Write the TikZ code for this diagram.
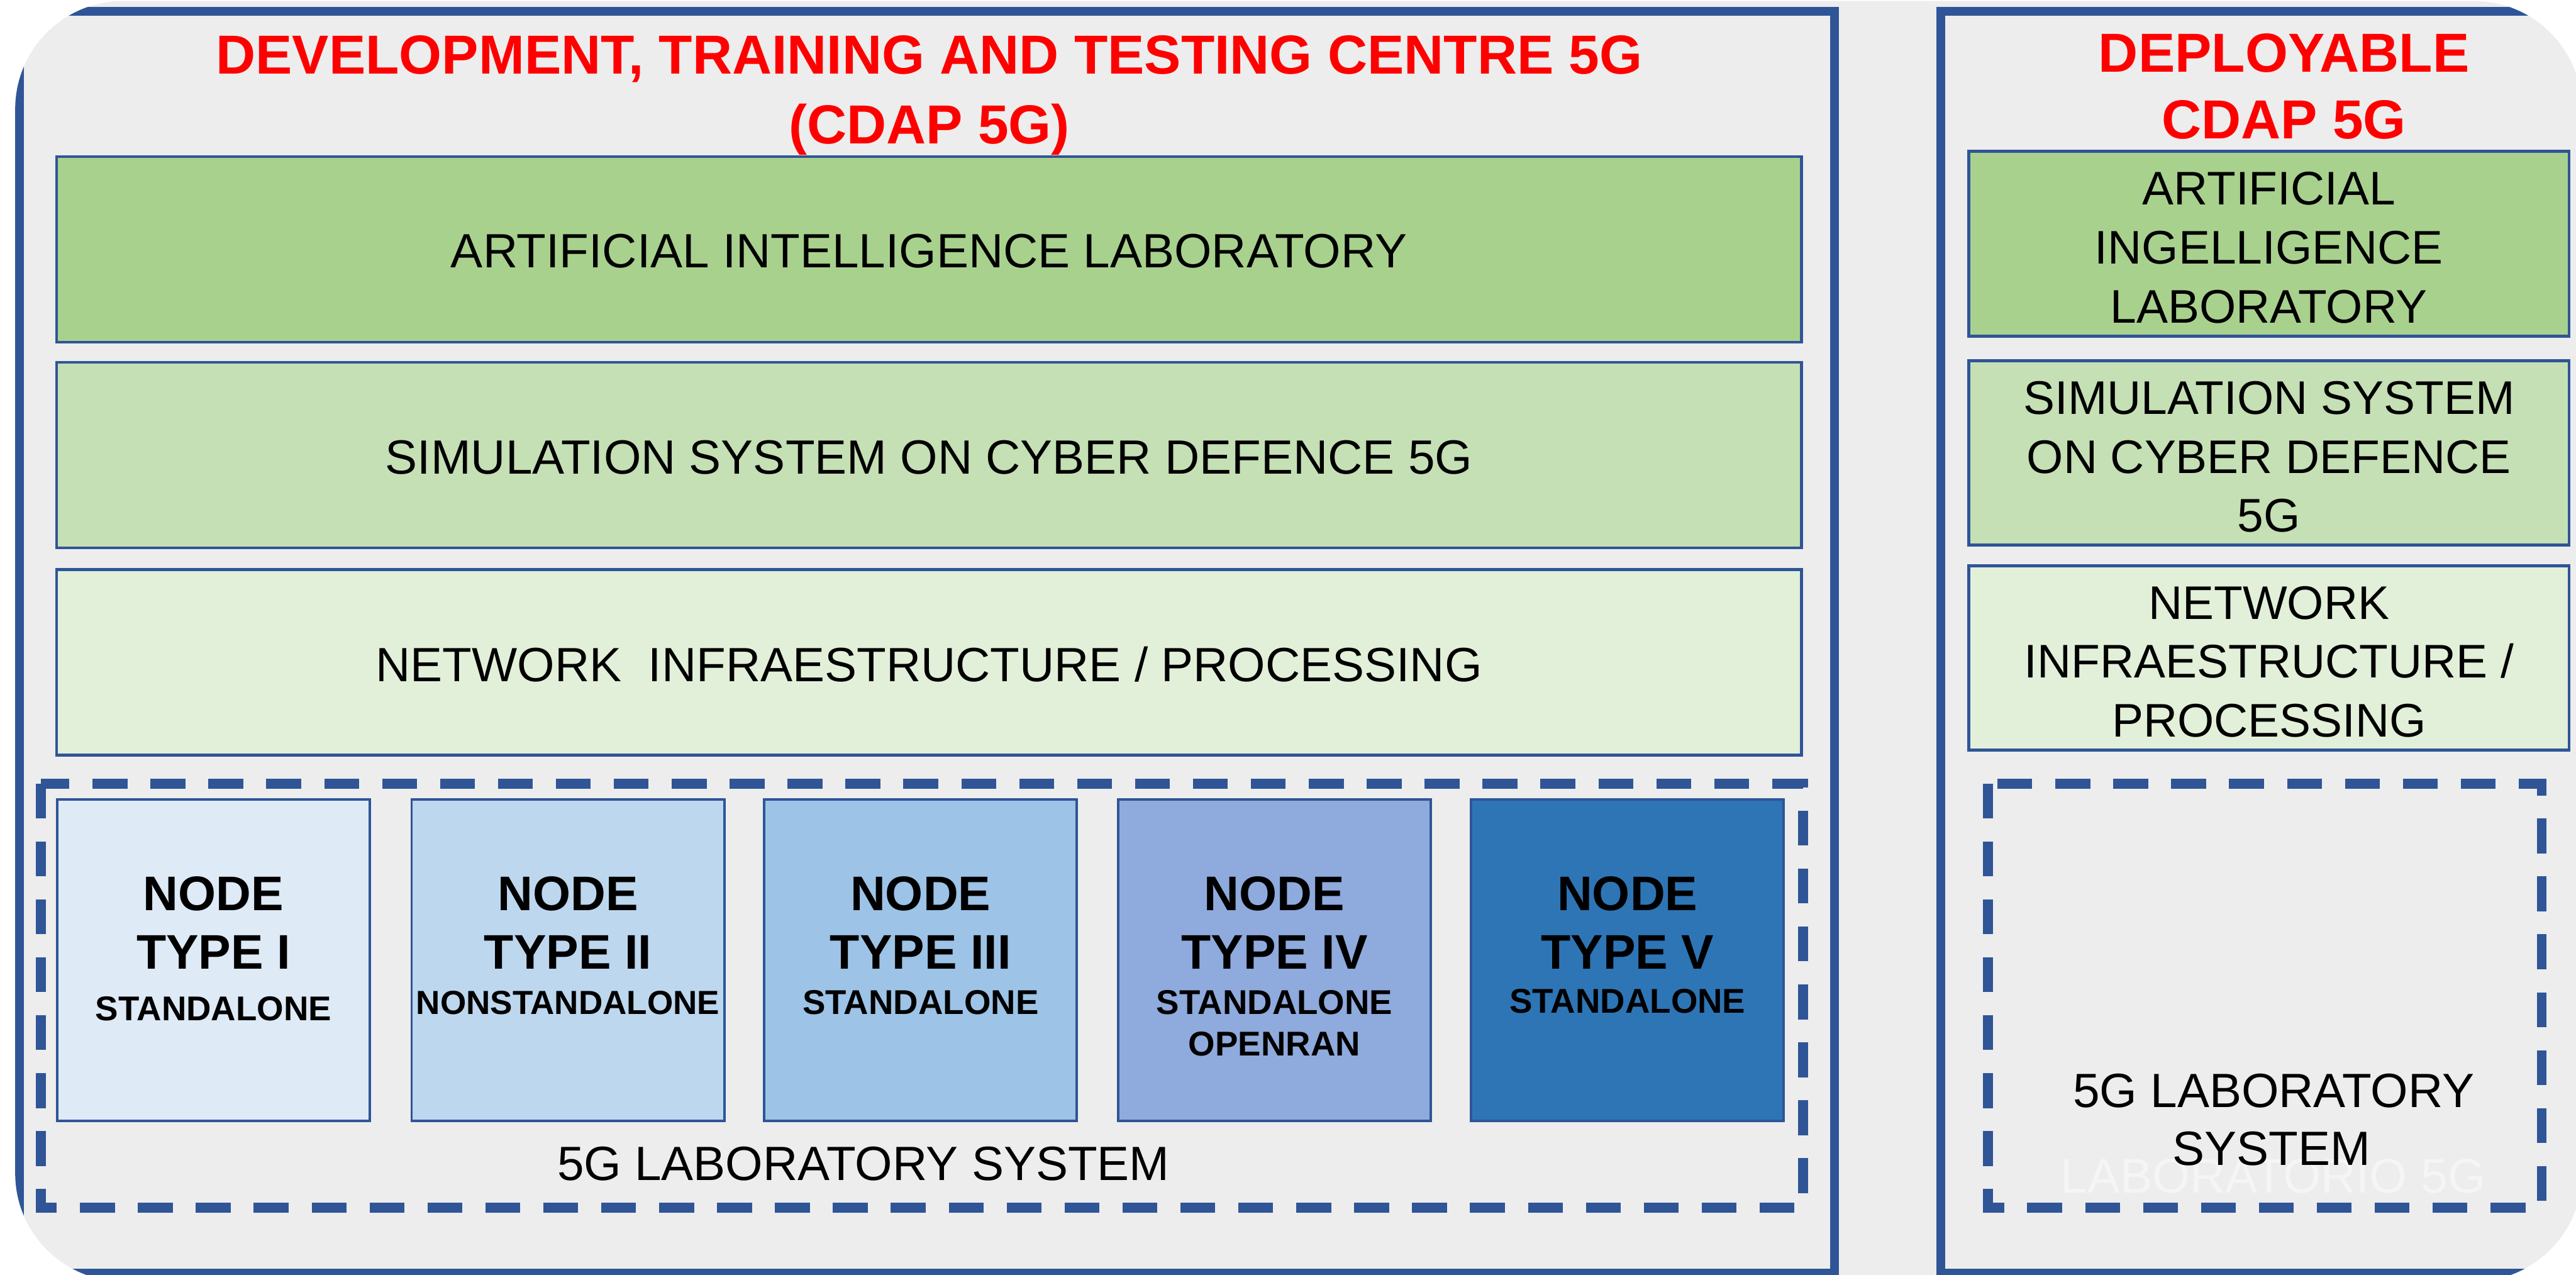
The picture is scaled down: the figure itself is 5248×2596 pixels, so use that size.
\documentclass[tikz,border=0pt]{standalone}
\usepackage{fontspec}
\setmainfont{Liberation Sans}
\definecolor{frameblue}{HTML}{2F5597}
\definecolor{titlered}{HTML}{FF0000}
\definecolor{bggray}{HTML}{EDEDED}
\definecolor{aigreen}{HTML}{A9D18E}
\definecolor{simgreen}{HTML}{C5E0B4}
\definecolor{netgreen}{HTML}{E2F0D9}
\definecolor{nodeone}{HTML}{DEEAF6}
\definecolor{nodetwo}{HTML}{BDD7EE}
\definecolor{nodethree}{HTML}{9DC3E6}
\definecolor{nodefour}{HTML}{8FAADC}
\definecolor{nodefive}{HTML}{2E75B6}
\tikzset{
  cframe/.style={draw=frameblue, line width=1.75pt},
  wideband/.style={draw=frameblue, line width=0.6pt, inner sep=0pt, outer sep=0pt,
    minimum width=355.5pt, minimum height=37.8pt},
  narrowband/.style={draw=frameblue, line width=0.6pt, inner sep=0pt, outer sep=0pt,
    minimum width=122.3pt, minimum height=37.6pt},
  widetxt/.style={inner sep=0pt, align=center, yshift=-0.4pt,
    font=\fontsize{9.8}{12}\selectfont},
  narrowtxt/.style={inner sep=0pt, align=center, yshift=-0.8pt,
    font=\fontsize{9.6}{12}\selectfont},
  nodebox/.style={draw=frameblue, line width=0.5pt, inner sep=0pt, outer sep=0pt,
    minimum width=63.7pt, minimum height=65.5pt},
  dashbox/.style={draw=frameblue, line width=2pt, dash pattern=on 7.1pt off 4.7pt},
  ttltxt/.style={text=titlered, font=\fontsize{11.2}{13}\selectfont\bfseries, anchor=base, inner sep=0pt},
  bigtxt/.style={font=\fontsize{9.9}{12}\selectfont\bfseries, anchor=base, inner sep=0pt},
  smalltxt/.style={font=\fontsize{7}{8.4}\selectfont\bfseries, anchor=base, inner sep=0pt},
  plaintxt/.style={font=\fontsize{9.8}{12}\selectfont, anchor=base, inner sep=0pt},
  ghosttxt/.style={font=\fontsize{9.9}{12}\selectfont, anchor=base, inner sep=0pt, text=white, text opacity=0.45},
}
\begin{document}
\begin{tikzpicture}[x=0.1pt,y=-0.1pt]
\fill[white] (0,0) rectangle (5248,2596);
\useasboundingbox (0,0) rectangle (5248,2596);
\begin{scope}
\clip[rounded corners=22pt] (31,2) rectangle (5260,2610);
\fill[bggray] (0,0) rectangle (5300,2700);
% containers
\draw[cframe] (39.5,23) rectangle (3737,2593);
\draw[cframe] (3953.5,23) rectangle (5320,2593);
% left column bands
\node[wideband, fill=aigreen]  (ai)  at (1892.5,508)  {};
\node[wideband, fill=simgreen] (sim) at (1892.5,927)  {};
\node[wideband, fill=netgreen] (net) at (1892.5,1349) {};
\node[widetxt] (aitxt)  at (ai.center)  {ARTIFICIAL INTELLIGENCE LABORATORY};
\node[widetxt] (simtxt) at (sim.center) {SIMULATION SYSTEM ON CYBER DEFENCE 5G};
\node[widetxt] (nettxt) at (net.center) {NETWORK\ \ INFRAESTRUCTURE / PROCESSING};
% right column bands
\node[narrowband, fill=aigreen]  (rai)  at (4622.5,496.5) {};
\node[narrowband, fill=simgreen] (rsim) at (4622.5,922.5) {};
\node[narrowband, fill=netgreen] (rnet) at (4622.5,1340)  {};
\node[narrowtxt] (raitxt)  at (rai.center)  {ARTIFICIAL\\INGELLIGENCE\\LABORATORY};
\node[narrowtxt] (rsimtxt) at (rsim.center) {SIMULATION SYSTEM\\ON CYBER DEFENCE\\5G};
\node[narrowtxt] (rnettxt) at (rnet.center) {NETWORK\\INFRAESTRUCTURE /\\PROCESSING};
% dashed 5G laboratory areas
\draw[dashbox] (83,1596) rectangle (3673,2460);
\draw[dashbox] (4050,1596) rectangle (5178,2460);
% node boxes
\node[nodebox, fill=nodeone]   (n1) at (435,1956)  {};
\node[nodebox, fill=nodetwo]   (n2) at (1157,1956) {};
\node[nodebox, fill=nodethree] (n3) at (1875.5,1956) {};
\node[nodebox, fill=nodefour]  (n4) at (2596.5,1956) {};
\node[nodebox, fill=nodefive]  (n5) at (3315.5,1956) {};
% node texts
\node[bigtxt] (n1a) at (435,1855) {NODE};
\node[bigtxt] (n1b) at (435,1974) {TYPE I};
\node[smalltxt] (n1c) at (435,2079) {STANDALONE};
\node[bigtxt] (n2a) at (1157,1855) {NODE};
\node[bigtxt] (n2b) at (1157,1974) {TYPE II};
\node[smalltxt, font=\fontsize{6.8}{8}\selectfont\bfseries] (n2c) at (1157,2066) {NONSTANDALONE};
\node[bigtxt] (n3a) at (1875.5,1855) {NODE};
\node[bigtxt] (n3b) at (1875.5,1974) {TYPE III};
\node[smalltxt] (n3c) at (1875.5,2066) {STANDALONE};
\node[bigtxt] (n4a) at (2596.5,1855) {NODE};
\node[bigtxt] (n4b) at (2596.5,1974) {TYPE IV};
\node[smalltxt] (n4c) at (2596.5,2066) {STANDALONE};
\node[smalltxt] (n4d) at (2596.5,2150) {OPENRAN};
\node[bigtxt] (n5a) at (3315.5,1855) {NODE};
\node[bigtxt] (n5b) at (3315.5,1974) {TYPE V};
\node[smalltxt] (n5c) at (3315.5,2063) {STANDALONE};
% lab labels
\node[plaintxt] (lablbl) at (1759,2404) {5G LABORATORY SYSTEM};
\node[ghosttxt] (gh2) at (4631,2430) {LABORATORIO 5G};
\node[plaintxt] (rlab1) at (4632,2255) {5G LABORATORY};
\node[plaintxt] (rlab2) at (4628,2374) {SYSTEM};
% titles
\node[ttltxt] (t1) at (1893,150) {DEVELOPMENT, TRAINING AND TESTING CENTRE 5G};
\node[ttltxt] (t2) at (1893,293) {(CDAP 5G)};
\node[ttltxt] (t3) at (4653,147) {DEPLOYABLE};
\node[ttltxt] (t4) at (4653,282) {CDAP 5G};
\end{scope}
\end{tikzpicture}
\end{document}
